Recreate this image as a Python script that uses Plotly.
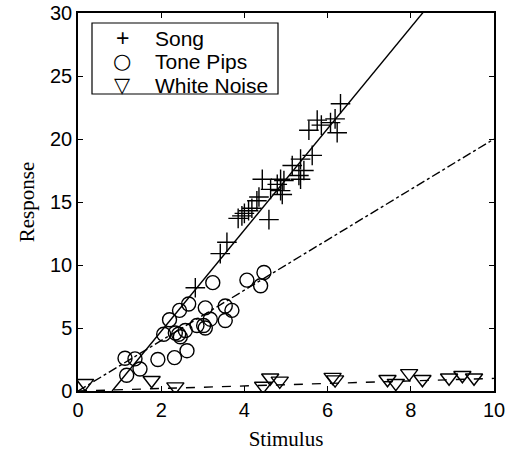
import numpy as np
import plotly.graph_objects as go

# Song (+)
song_x = [2.82, 3.42, 3.58, 3.85, 3.94, 4.00, 4.10, 4.18, 4.30, 4.35, 4.43, 4.59, 4.63, 4.79,
          4.87, 4.87, 4.91, 4.95, 5.15, 5.31, 5.35, 5.35, 5.43, 5.55, 5.63, 5.75, 5.85, 6.07,
          6.18, 6.23, 6.31]
song_y = [8.2, 10.9, 11.8, 13.7, 13.9, 14.1, 14.3, 14.5, 15.1, 15.4, 16.8, 13.6, 16.0, 16.4,
          16.8, 15.9, 15.6, 16.7, 17.9, 17.1, 16.8, 18.4, 17.5, 20.7, 18.7, 21.5, 21.1, 21.3,
          21.6, 20.5, 22.8]

# Tone Pips (o)
tone_x = [4.47, 4.06, 4.39, 3.24, 2.66, 2.44, 2.20, 3.06, 3.54, 3.70, 3.54, 3.18, 3.02, 2.86,
          3.06, 2.58, 2.42, 2.46, 2.06, 2.34, 2.62, 2.32, 1.92, 1.13, 1.37, 1.49, 1.17]
tone_y = [9.4, 8.8, 8.35, 8.6, 6.9, 6.4, 5.65, 6.6, 6.75, 6.4, 5.6, 5.7, 5.2, 5.2,
          5.0, 4.8, 4.5, 4.3, 4.5, 4.6, 3.2, 2.65, 2.5, 2.6, 2.55, 1.75, 1.25]

# White Noise (triangle)
noise_x = [0.17, 1.77, 2.34, 4.45, 4.62, 4.85, 6.12, 6.18, 7.44, 7.64, 7.96, 8.28, 8.92, 9.24, 9.52]
noise_y = [0.62, 0.85, 0.35, 0.40, 1.05, 0.80, 1.10, 0.90, 0.93, 0.62, 1.40, 0.93, 1.05, 1.25, 1.05]

# Fit lines (slope, intercept, x-start, x-end)
song_fit = (4.02, -3.30, 0.82, 8.3)
tone_fit = (2.0, 0.0, 0.0, 10.0)
noise_fit = (0.1, 0.0, 0.0, 10.0)

x_ticks = [0, 2, 4, 6, 8, 10]
y_ticks = [0, 5, 10, 15, 20, 25, 30]

legend_labels = ["Song", "Tone Pips", "White Noise"]
legend_glyphs = ["+", "\u25CB", "\u25BD"]


def fit_line(p):
    m, b, x0, x1 = p
    xs = np.array([x0, x1])
    return xs, m * xs + b


fig = go.Figure()

fig.add_trace(go.Scatter(x=song_x, y=song_y, mode="markers", name="Song",
                         marker=dict(symbol="cross-thin-open", size=14, color="black",
                                     line=dict(width=1.4, color="black"))))
fig.add_trace(go.Scatter(x=tone_x, y=tone_y, mode="markers", name="Tone Pips",
                         marker=dict(symbol="circle-open", size=14, color="black",
                                     line=dict(width=1.4, color="black"))))
fig.add_trace(go.Scatter(x=noise_x, y=noise_y, mode="markers", name="White Noise",
                         marker=dict(symbol="triangle-down-open", size=15, color="black",
                                     line=dict(width=1.4, color="black"))))

for p, dash in [(song_fit, "solid"), (tone_fit, "dashdot"), (noise_fit, "dash")]:
    lx, ly = fit_line(p)
    fig.add_trace(go.Scatter(x=lx, y=ly, mode="lines", showlegend=False,
                             line=dict(color="black", width=1.4, dash=dash)))

axis_common = dict(showgrid=False, zeroline=False, showline=True, linecolor="black",
                   linewidth=1.5, mirror="ticks", ticks="inside", ticklen=5,
                   tickcolor="black", tickwidth=1, automargin=False,
                   tickfont=dict(family="Liberation Sans, Arial", size=20, color="black"))

# Manual legend box (paper coordinates)
L, R, T = 78, 13, 13
W, H = 507, 453
pw, ph = W - L - R, H - T - 62


def px_x(p):
    return (p - L) / pw


def px_y(p):
    return (H - 62 - p) / ph


shapes = [dict(type="rect", xref="paper", yref="paper",
               x0=px_x(92), x1=px_x(278), y0=px_y(94), y1=px_y(23),
               line=dict(color="black", width=1.2), fillcolor="white", layer="above")]

annotations = []
row_y = [38, 61.5, 85]
glyph_fonts = [("Liberation Sans, Arial", 23), ("DejaVu Sans", 21), ("DejaVu Sans", 21)]
for i, (lab, gl) in enumerate(zip(legend_labels, legend_glyphs)):
    annotations.append(dict(xref="paper", yref="paper", x=px_x(153), y=px_y(row_y[i]),
                            xanchor="left", yanchor="middle", text=lab, showarrow=False,
                            font=dict(family="Liberation Sans, Arial", size=21, color="black")))
    gf, gs = glyph_fonts[i]
    annotations.append(dict(xref="paper", yref="paper", x=px_x(122), y=px_y(row_y[i]),
                            xanchor="center", yanchor="middle", text=gl, showarrow=False,
                            font=dict(family=gf, size=gs, color="black")))

fig.update_layout(
    width=W, height=H,
    margin=dict(l=L, r=R, t=T, b=62),
    paper_bgcolor="white", plot_bgcolor="white",
    xaxis=dict(range=[0, 10], tickvals=x_ticks,
               title=dict(text="Stimulus", standoff=12,
                          font=dict(family="Liberation Serif, Times New Roman", size=21, color="black")),
               **axis_common),
    yaxis=dict(range=[0, 30], tickvals=y_ticks,
               title=dict(text="Response", standoff=10,
                          font=dict(family="Liberation Serif, Times New Roman", size=21, color="black")),
               **axis_common),
    shapes=shapes,
    annotations=annotations,
    showlegend=False,
)

fig.write_html("out.html")
